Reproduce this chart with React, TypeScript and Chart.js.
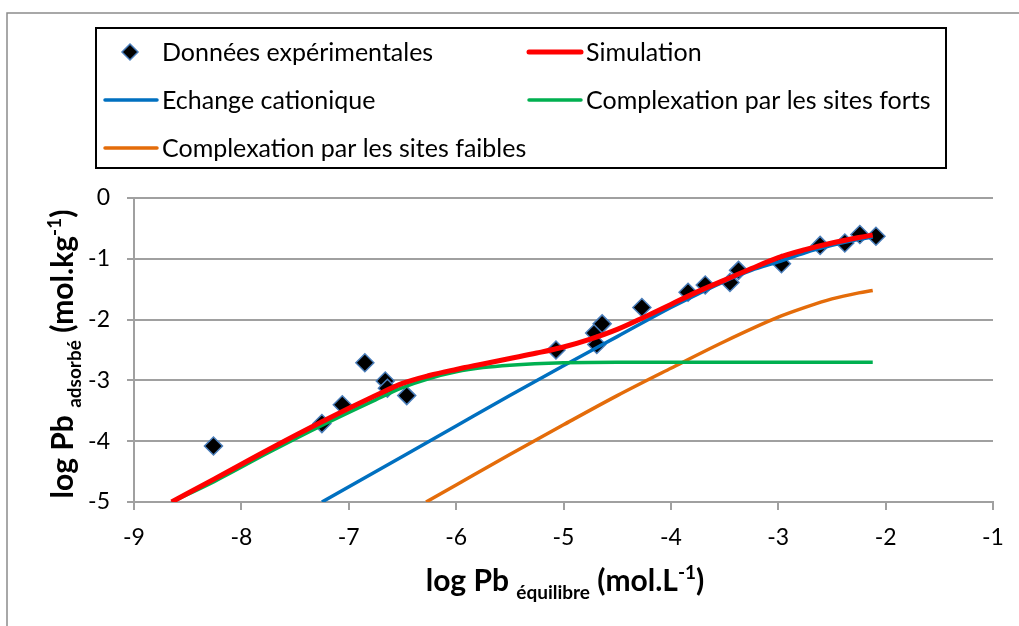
import React, { useEffect, useRef } from "react";
import { Chart, registerables } from "chart.js";

Chart.register(...registerables);

// ---------- data ----------
const expX = [-8.26, -7.25, -7.06, -6.85, -6.66, -6.64, -6.46, -5.07, -4.71, -4.69, -4.64, -4.27, -3.84, -3.68, -3.45, -3.37, -2.97, -2.61, -2.38, -2.24, -2.09];
const expY = [-4.08, -3.71, -3.40, -2.71, -3.01, -3.13, -3.25, -2.50, -2.22, -2.41, -2.07, -1.80, -1.55, -1.43, -1.39, -1.19, -1.08, -0.78, -0.74, -0.60, -0.63];

const simX = [-8.65, -8.25, -7.75, -7.25, -6.75, -6.5, -6.25, -6.0, -5.75, -5.5, -5.25, -5.0, -4.75, -4.5, -4.25, -4.0, -3.75, -3.5, -3.25, -3.0, -2.75, -2.5, -2.25, -2.12];
const simY = [-5.0, -4.62, -4.14, -3.68, -3.25, -3.05, -2.92, -2.82, -2.73, -2.64, -2.55, -2.45, -2.32, -2.16, -1.96, -1.75, -1.54, -1.35, -1.16, -0.98, -0.85, -0.74, -0.65, -0.61];

const echX = [-7.25, -6.5, -6.0, -5.5, -5.0, -4.5, -4.0, -3.75, -3.5, -3.25, -3.0, -2.75, -2.5, -2.25, -2.12];
const echY = [-5.0, -4.25, -3.75, -3.25, -2.76, -2.28, -1.8, -1.58, -1.37, -1.19, -1.05, -0.9, -0.78, -0.68, -0.64];

const fortX = [-8.65, -8.25, -7.75, -7.25, -6.75, -6.5, -6.25, -6.0, -5.75, -5.5, -5.0, -4.5, -4.0, -3.0, -2.12];
const fortY = [-5.0, -4.66, -4.19, -3.74, -3.32, -3.12, -2.97, -2.86, -2.79, -2.75, -2.71, -2.7, -2.7, -2.7, -2.7];

const faibX = [-6.28, -6.0, -5.5, -5.0, -4.5, -4.0, -3.5, -3.0, -2.75, -2.5, -2.25, -2.12];
const faibY = [-5.0, -4.72, -4.22, -3.73, -3.25, -2.8, -2.36, -1.96, -1.8, -1.66, -1.56, -1.52];

const xTicks = [-9, -8, -7, -6, -5, -4, -3, -2, -1];
const yTicks = [0, -1, -2, -3, -4, -5];

const seriesLabels = [
  "Données expérimentales",
  "Simulation",
  "Echange cationique",
  "Complexation par les sites forts",
  "Complexation par les sites faibles",
];

const xTitle = [
  { t: "log Pb ", small: false, shift: 0 },
  { t: "équilibre", small: true, shift: 1 },
  { t: " (mol.L", small: false, shift: 0 },
  { t: "-1", small: true, shift: -1 },
  { t: ")", small: false, shift: 0 },
];
const yTitle = [
  { t: "log Pb ", small: false, shift: 0 },
  { t: "adsorbé", small: true, shift: 1 },
  { t: " (mol.kg", small: false, shift: 0 },
  { t: "-1", small: true, shift: -1 },
  { t: ")", small: false, shift: 0 },
];

const FONT = "Lato, 'Noto Sans', sans-serif";

const pts = (xs: number[], ys: number[]) => xs.map((x, i) => ({ x, y: ys[i] }));

function drawRichTitle(ctx: CanvasRenderingContext2D, parts: typeof xTitle, cx: number, cy: number, rot: number) {
  const big = 30;
  const small = 19;
  ctx.save();
  ctx.translate(cx, cy);
  ctx.rotate(rot);
  ctx.textBaseline = "alphabetic";
  ctx.textAlign = "left";
  ctx.fillStyle = "#000";
  let total = 0;
  const widths = parts.map((p) => {
    ctx.font = `bold ${p.small ? small : big}px ${FONT}`;
    const w = ctx.measureText(p.t).width;
    total += w;
    return w;
  });
  let x = -total / 2;
  parts.forEach((p, i) => {
    ctx.font = `bold ${p.small ? small : big}px ${FONT}`;
    const dy = p.shift > 0 ? 8 : p.shift < 0 ? -12 : 0;
    ctx.fillText(p.t, x, dy);
    x += widths[i];
  });
  ctx.restore();
}

const decorPlugin = {
  id: "decor",
  afterDraw(chart: any) {
    const ctx: CanvasRenderingContext2D = chart.ctx;
    const ds = chart.data.datasets;
    // outer chart border
    ctx.save();
    ctx.strokeStyle = "#8c8c8c";
    ctx.lineWidth = 1.5;
    ctx.beginPath();
    ctx.moveTo(7, 700);
    ctx.lineTo(7, 13);
    ctx.lineTo(1100, 13);
    ctx.stroke();

    // legend box
    ctx.fillStyle = "#fff";
    ctx.strokeStyle = "#000";
    ctx.lineWidth = 2;
    ctx.fillRect(96, 28, 850, 140);
    ctx.strokeRect(96, 28, 850, 140);

    ctx.font = `25px ${FONT}`;
    ctx.textBaseline = "middle";
    ctx.textAlign = "left";
    const rows = [52, 100, 148];
    const items = [
      { ds: 0, col: 0, row: 0 },
      { ds: 1, col: 1, row: 0 },
      { ds: 2, col: 0, row: 1 },
      { ds: 3, col: 1, row: 1 },
      { ds: 4, col: 0, row: 2 },
    ];
    const colX = [103, 527];
    items.forEach((it) => {
      const d = ds[it.ds];
      const y = rows[it.row];
      const x0 = colX[it.col];
      if (it.ds === 0) {
        const cx = x0 + 27;
        const r = 8;
        ctx.beginPath();
        ctx.moveTo(cx, y - r);
        ctx.lineTo(cx + r, y);
        ctx.lineTo(cx, y + r);
        ctx.lineTo(cx - r, y);
        ctx.closePath();
        ctx.fillStyle = d.backgroundColor;
        ctx.fill();
        ctx.strokeStyle = d.borderColor;
        ctx.lineWidth = 1.5;
        ctx.stroke();
      } else {
        ctx.beginPath();
        ctx.lineCap = "round";
        ctx.strokeStyle = d.borderColor;
        ctx.lineWidth = d.borderWidth;
        ctx.moveTo(x0 + 2, y);
        ctx.lineTo(x0 + 54, y);
        ctx.stroke();
      }
      ctx.fillStyle = "#000";
      ctx.fillText(d.label, x0 + 59, y + 1);
    });
    ctx.restore();

    drawRichTitle(ctx, xTitle, 565, 591, 0);
    drawRichTitle(ctx, yTitle, 73, 354, -Math.PI / 2);
  },
};

export default function App() {
  const ref = useRef<HTMLCanvasElement | null>(null);
  useEffect(() => {
    if (!ref.current) return;
    const chart = new Chart(ref.current, {
      type: "scatter",
      data: {
        datasets: [
          {
            label: seriesLabels[0],
            data: pts(expX, expY),
            showLine: false,
            pointStyle: "rectRot",
            pointRadius: 9,
            pointHoverRadius: 9,
            backgroundColor: "#000000",
            borderColor: "#4a7ebb",
            borderWidth: 1.5,
            order: 5,
          },
          {
            label: seriesLabels[1],
            data: pts(simX, simY),
            showLine: true,
            borderColor: "#ff0000",
            backgroundColor: "#ff0000",
            borderWidth: 5,
            pointRadius: 0,
            cubicInterpolationMode: "monotone",
            order: 0,
          },
          {
            label: seriesLabels[2],
            data: pts(echX, echY),
            showLine: true,
            borderColor: "#0070c0",
            backgroundColor: "#0070c0",
            borderWidth: 3.5,
            pointRadius: 0,
            cubicInterpolationMode: "monotone",
            order: 2,
          },
          {
            label: seriesLabels[3],
            data: pts(fortX, fortY),
            showLine: true,
            borderColor: "#00b050",
            backgroundColor: "#00b050",
            borderWidth: 3.5,
            pointRadius: 0,
            cubicInterpolationMode: "monotone",
            order: 1,
          },
          {
            label: seriesLabels[4],
            data: pts(faibX, faibY),
            showLine: true,
            borderColor: "#e46c0a",
            backgroundColor: "#e46c0a",
            borderWidth: 3.5,
            pointRadius: 0,
            cubicInterpolationMode: "monotone",
            order: 3,
          },
        ],
      },
      options: {
        animation: false,
        responsive: false,
        devicePixelRatio: 1,
        layout: { padding: { left: 0, top: 198, right: 26, bottom: 0 } },
        plugins: {
          legend: { display: false },
          tooltip: { enabled: false },
          title: { display: false },
        },
        scales: {
          x: {
            type: "linear",
            min: -9,
            max: -1,
            afterBuildTicks: (s: any) => {
              s.ticks = xTicks.map((v) => ({ value: v }));
            },
            afterFit: (s: any) => {
              s.height = 124;
            },
            ticks: {
              color: "#000",
              font: { family: FONT, size: 23 },
              padding: 14,
              maxRotation: 0,
              callback: (v: any) => String(v),
            },
            grid: {
              drawOnChartArea: false,
              drawTicks: true,
              tickLength: 8,
              color: "#a0a0a0",
              lineWidth: 2,
            },
            border: { display: true, color: "#a0a0a0", width: 2 },
          },
          y: {
            type: "linear",
            min: -5,
            max: 0,
            afterBuildTicks: (s: any) => {
              s.ticks = yTicks.map((v) => ({ value: v }));
            },
            afterFit: (s: any) => {
              s.width = 134;
            },
            ticks: {
              color: "#000",
              font: { family: FONT, size: 23 },
              padding: 17,
              callback: (v: any) => String(v),
            },
            grid: {
              drawOnChartArea: true,
              drawTicks: true,
              tickLength: 7,
              color: "#a0a0a0",
              lineWidth: 2,
            },
            border: { display: true, color: "#a0a0a0", width: 2 },
          },
        },
      },
      plugins: [decorPlugin],
    } as any);
    return () => chart.destroy();
  }, []);
  return (
    <div style={{ position: "fixed", left: 0, top: 0, width: 1019, height: 626, background: "#fff" }}>
      <canvas ref={ref} width={1019} height={626} style={{ width: 1019, height: 626, display: "block" }} />
    </div>
  );
}
